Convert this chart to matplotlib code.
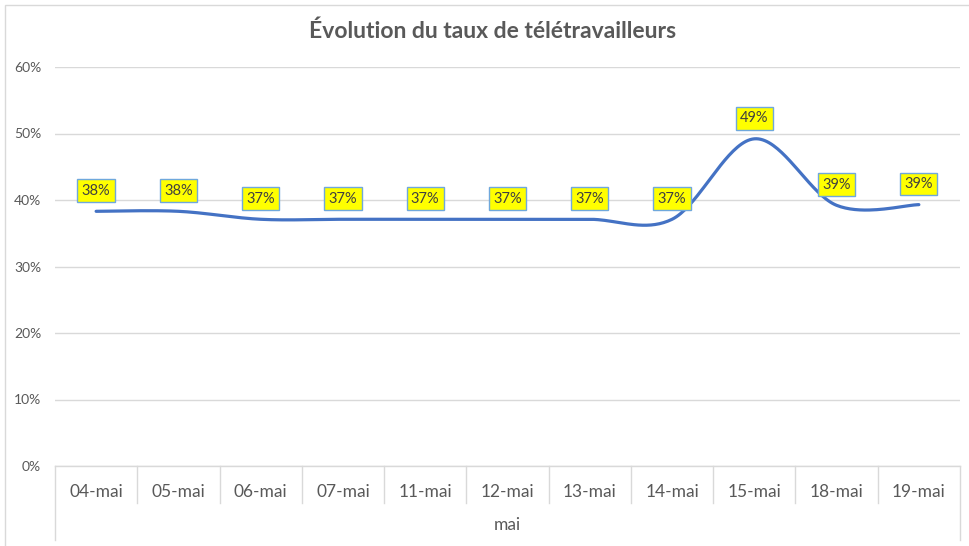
import numpy as np
import matplotlib
matplotlib.use("Agg")
import matplotlib.pyplot as plt
from matplotlib.patches import Rectangle
from matplotlib.lines import Line2D
import matplotlib.transforms as mtransforms

plt.rcParams['font.family'] = ['Lato', 'DejaVu Sans']

categories = ["04-mai", "05-mai", "06-mai", "07-mai", "11-mai", "12-mai",
              "13-mai", "14-mai", "15-mai", "18-mai", "19-mai"]
values = [38.3, 38.3, 37.1, 37.1, 37.1, 37.1, 37.1, 37.1, 49.2, 39.2, 39.3]
labels = ["38%", "38%", "37%", "37%", "37%", "37%", "37%", "37%", "49%", "39%", "39%"]
yticks = [0, 10, 20, 30, 40, 50, 60]
group_label = "mai"
title = "Évolution du taux de télétravailleurs"

W, H = 969, 546
fig = plt.figure(figsize=(W / 100, H / 100), dpi=100)

def fx(px):
    return px / W

def fy(py):
    return 1 - py / H

L, R, T, B = 55, 960, 67, 466
ax = fig.add_axes([fx(L), fy(B), fx(R) - fx(L), fy(T) - fy(B)])

x = np.arange(len(values))
y = np.array(values) / 100.0

# Excel-like smoothed line (Catmull-Rom Bezier)
def smooth(xs, ys, n=40):
    px = np.concatenate([[xs[0]], xs, [xs[-1]]])
    py = np.concatenate([[ys[0]], ys, [ys[-1]]])
    outx, outy = [], []
    t = np.linspace(0, 1, n)
    for i in range(1, len(px) - 2):
        p0x, p0y = px[i], py[i]
        p3x, p3y = px[i + 1], py[i + 1]
        c1x = p0x + (px[i + 1] - px[i - 1]) / 6
        c1y = p0y + (py[i + 1] - py[i - 1]) / 6
        c2x = p3x - (px[i + 2] - px[i]) / 6
        c2y = p3y - (py[i + 2] - py[i]) / 6
        bx = (1 - t) ** 3 * p0x + 3 * (1 - t) ** 2 * t * c1x + 3 * (1 - t) * t ** 2 * c2x + t ** 3 * p3x
        by = (1 - t) ** 3 * p0y + 3 * (1 - t) ** 2 * t * c1y + 3 * (1 - t) * t ** 2 * c2y + t ** 3 * p3y
        outx.append(bx)
        outy.append(by)
    return np.concatenate(outx), np.concatenate(outy)

sx, sy = smooth(x.astype(float), y)
ax.plot(sx, sy, color="#4472C4", lw=2.3, solid_capstyle="round", zorder=3)

for xi, yi, lab in zip(x, y, labels):
    ax.annotate(lab, (xi, yi), xytext=(0, 14.8), textcoords="offset points",
                ha="center", va="center", fontsize=10.5, color="#404040", zorder=5,
                bbox=dict(boxstyle="square,pad=0.3", fc="#FFFF00", ec="#6FA8DC", lw=1.0))

ax.set_xlim(-0.5, len(values) - 0.5)
ax.set_ylim(0, 0.6)
ax.set_yticks([v / 100 for v in yticks])
ax.set_yticklabels([f"{v}%" for v in yticks])
ax.tick_params(axis="y", length=0, pad=10, labelsize=10, labelcolor="#595959")
ax.set_xticks([])
for s in ax.spines.values():
    s.set_visible(False)
ax.grid(axis="y", color="#D9D9D9", lw=1)
ax.set_axisbelow(True)

# Multi-level category axis
blend = mtransforms.blended_transform_factory(ax.transData, fig.transFigure)
grid_c = "#D9D9D9"
fig.add_artist(Line2D([fx(L), fx(R)], [fy(B), fy(B)], color=grid_c, lw=1, transform=fig.transFigure))
for i in range(1, len(values)):
    fig.add_artist(Line2D([i - 0.5, i - 0.5], [fy(B), fy(503)], color=grid_c, lw=1, transform=blend))
for xe in (L, R):
    fig.add_artist(Line2D([fx(xe), fx(xe)], [fy(B), fy(540)], color=grid_c, lw=1, transform=fig.transFigure))
for xi, c in zip(x, categories):
    fig.text(xi, fy(492), c, transform=blend, ha="center", va="center",
             fontsize=12.5, color="#595959")
fig.text((fx(L) + fx(R)) / 2, fy(525), group_label, ha="center", va="center",
         fontsize=12.5, color="#595959")

# Title
fig.text(0.5 * (308 + 678) / W, fy(31), title, ha="center", va="center",
         fontsize=16.5, fontweight="bold", color="#595959")

# Chart border
fig.add_artist(Rectangle((fx(5), fy(H + 5)), fx(W) - fx(5) + 0.01, fy(5) - fy(H + 5),
                         transform=fig.transFigure, fill=False, ec="#D9D9D9", lw=1))

fig.savefig("out.png", dpi=100)
